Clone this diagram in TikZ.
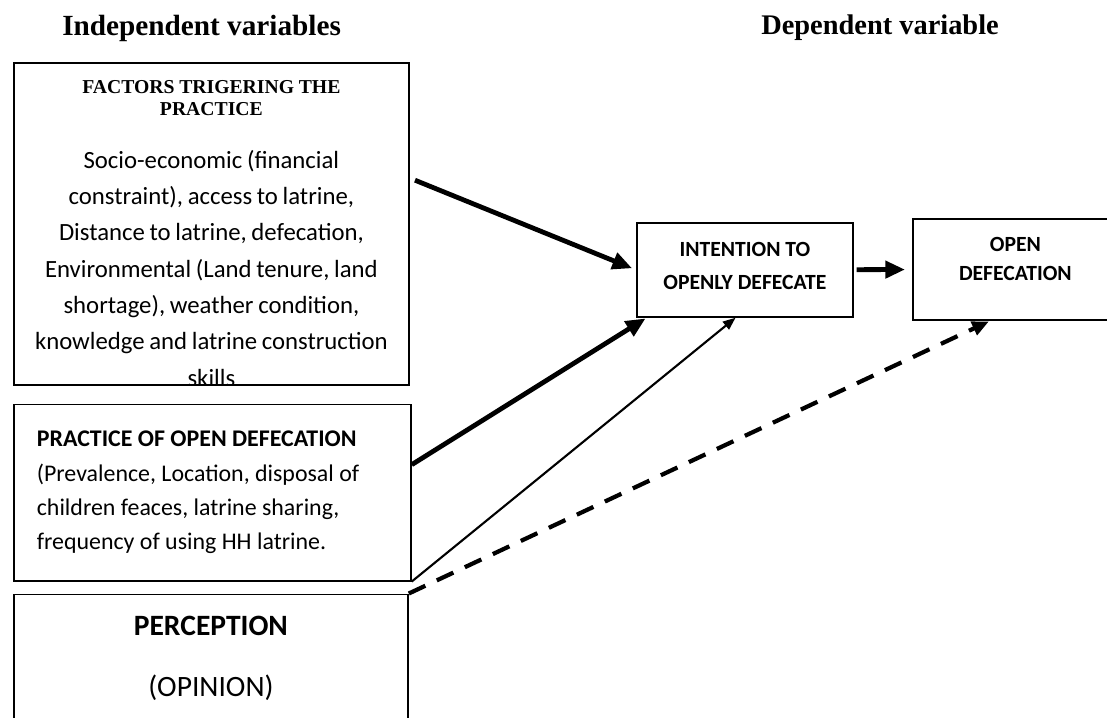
\documentclass[tikz,border=0pt]{standalone}
\usepackage{fontspec}
\setmainfont{Carlito}
\newfontfamily\headfont{Liberation Serif}
\usetikzlibrary{calc}
\usetikzlibrary{positioning}
\usetikzlibrary{arrows.meta}

\begin{document}
\begin{tikzpicture}[x=0.025cm,y=-0.025cm,
      box style/.style={rectangle,draw=black,line width=1.2pt,inner sep=0pt},
      head style/.style={font=\headfont\bfseries\fontsize{20.8}{24}\selectfont,
        anchor=west,inner sep=0pt},
      thick arrow/.style={line width=3.4pt,-{Triangle[length=14pt,width=12pt]}},
      thin arrow/.style={line width=1.5pt,-{Triangle[length=9pt,width=7pt]}},
      dash arrow/.style={line width=3pt,dash pattern=on 13pt off 9pt,
        -{Triangle[length=12pt,width=10pt]}}
      ]
      \useasboundingbox (0,0) rectangle (1107,718);
      \clip (0,0) rectangle (1107,718);

      \node[head style] (indep) at (62,28) {Independent variables};
      \node[head style,font=\headfont\bfseries\fontsize{20.2}{24}\selectfont]
        (dep) at (761,28) {Dependent variable};

      % left column
      \node[box style,anchor=north west,minimum width=9.875cm,
        minimum height=8.05cm] (factors) at (13,62) {};
      \begin{scope}
        \clip (factors.south west) rectangle (factors.north east);
        \node[anchor=north,inner sep=0pt,text width=9.7cm,align=center]
          (factorstext) at ($(factors.north)+(0,18)$)
          {{\headfont\bfseries\fontsize{14}{15.6}\selectfont FACTORS
            TRIGERING THE\\PRACTICE\par}\vspace{12pt}
           {\fontsize{17.6}{25.8}\selectfont Socio-economic (financial\\
            constraint), access to latrine,\\ Distance to latrine,
            defecation,\\ Environmental (Land tenure, land\\ shortage),
            weather condition,\\ knowledge and latrine construction\\
            skills\par}};
      \end{scope}
      \node[box style,below=0.45cm of factors.south west,anchor=north west,
        minimum width=9.925cm,minimum height=4.4cm,inner xsep=0.575cm,
        text width=8.775cm,align=flush left,
        font=\fontsize{17}{24.4}\selectfont] (practice)
        {\textbf{PRACTICE OF OPEN DEFECATION}\\(Prevalence, Location,
        disposal of\\ children feaces, latrine sharing,\\ frequency of
        using HH latrine.};
      \node[box style,below=0.3cm of practice.south west,anchor=north west,
        minimum width=9.85cm,minimum height=3.2cm,align=center,
        font=\fontsize{21}{24}\selectfont] (percep)
        {\textbf{PERCEPTION}\\[19pt](OPINION)};

      % right side
      \node[box style,anchor=north west,minimum width=5.4cm,
        minimum height=2.35cm,align=center,text depth=5.6pt,
        font=\bfseries\fontsize{15.4}{24}\selectfont] (intent) at (636,222)
        {INTENTION TO\\OPENLY DEFECATE};
      \node[box style,anchor=north west,minimum width=5.125cm,
        minimum height=2.525cm] (open) at (912,218) {};
      \node[anchor=north,inner sep=0pt,align=center,
        font=\bfseries\fontsize{15.4}{20.6}\selectfont] (opentext)
        at ($(open.north)+(0,19)$) {OPEN\\DEFECATION};

      \draw[thick arrow,shorten <=4pt,shorten >=3pt] (factors.13.7) -- (intent.west);
      \draw[thick arrow,shorten >=1pt] (practice.8) -- (intent.206);
      \draw[thin arrow] (practice.south east) -- (intent.259);
      \draw[dash arrow,shorten >=1pt] (percep.north east) -- (open.244);
      \draw[thick arrow,shorten <=2pt,shorten >=5pt] (intent) -- (open);

    \end{tikzpicture}
\end{document}
